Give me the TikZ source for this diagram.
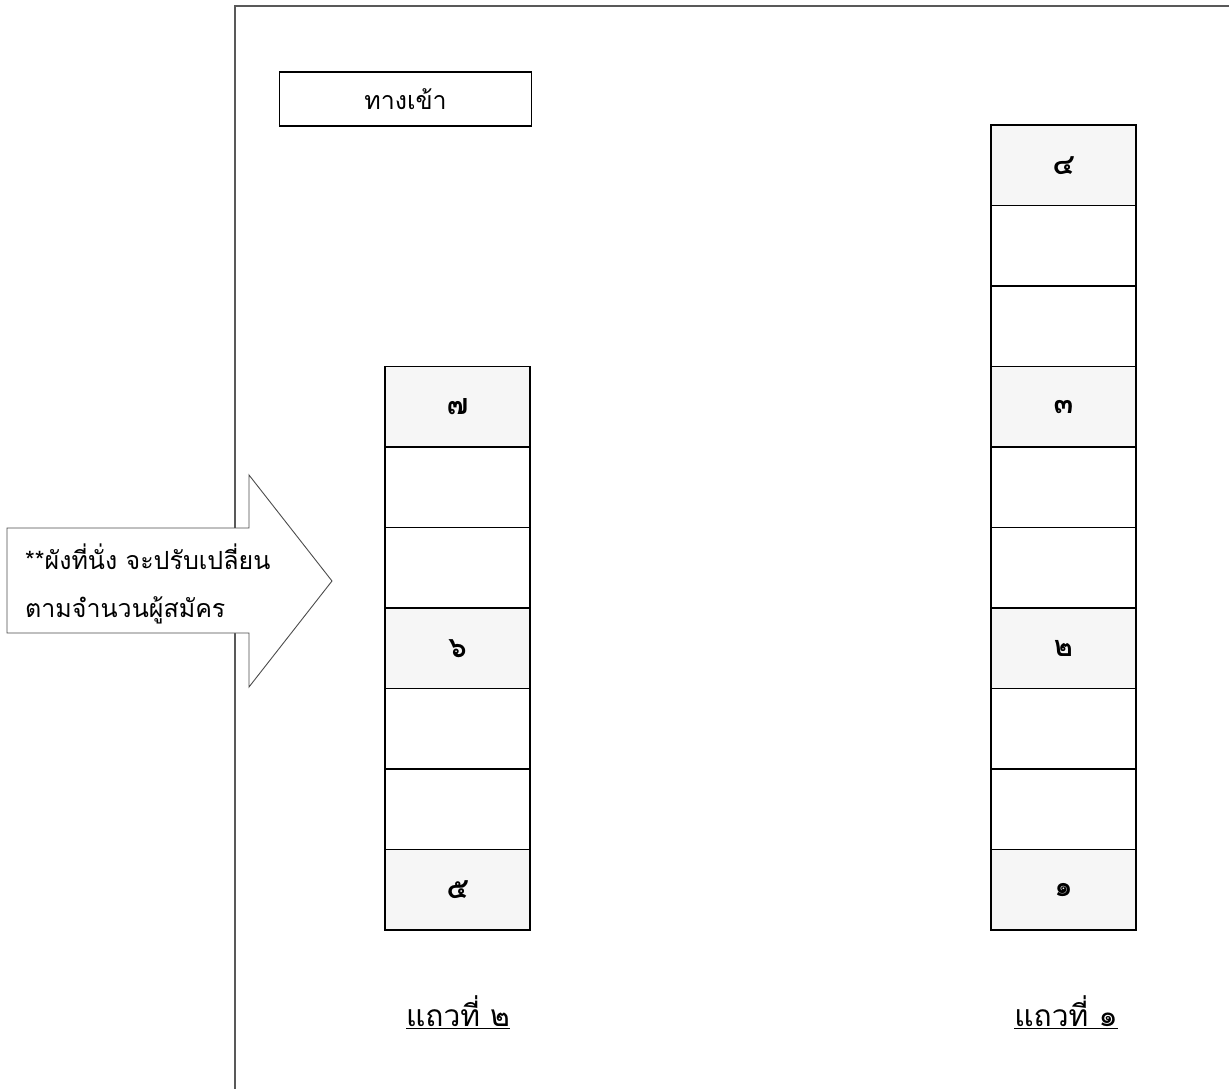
\documentclass[tikz,border=0pt]{standalone}
\usepackage{fontspec}
\newfontfamily\thaifont[Script=Thai]{Loma}
\usetikzlibrary{positioning}

\tikzset{
  seat/.style={draw, line width=1.3pt, minimum width=145pt, minimum height=80.5pt,
    inner sep=0pt, font=\thaifont\bfseries\fontsize{29}{29}\selectfont},
  seatno/.style={seat, fill=gray!7},
  rowlabel/.style={font=\thaifont\fontsize{30}{30}\selectfont},
}

\begin{document}
\begin{tikzpicture}[x=1pt,y=-1pt]
\useasboundingbox (0,0) rectangle (1229,1089);
% hall outline
\draw[line width=1.3pt, gray!70!black] (235,1089) -- (235,6) -- (1229,6);

% entrance
\node[draw, line width=1.3pt, minimum width=252pt, minimum height=54pt, inner sep=0pt,
  font=\thaifont\fontsize{25}{25}\selectfont] (entry) at (405.5,99) {ทางเข้า};

% row 1
\node[seatno] (r1a) at (1063.5,165.25) {\raisebox{-4pt}{๔}};
\node[seat]   (r1b) at (1063.5,245.75) {};
\node[seat]   (r1c) at (1063.5,326.25) {};
\node[seatno] (r1d) at (1063.5,406.75) {\raisebox{-4pt}{๓}};
\node[seat]   (r1e) at (1063.5,487.25) {};
\node[seat]   (r1f) at (1063.5,567.75) {};
\node[seatno] (r1g) at (1063.5,648.25) {\raisebox{-4pt}{๒}};
\node[seat]   (r1h) at (1063.5,728.75) {};
\node[seat]   (r1i) at (1063.5,809.25) {};
\node[seatno] (r1j) at (1063.5,889.75) {\raisebox{-4pt}{๑}};

% row 2
\node[seatno] (r2a) at (457.5,406.75) {\raisebox{-4pt}{๗}};
\node[seat]   (r2b) at (457.5,487.25) {};
\node[seat]   (r2c) at (457.5,567.75) {};
\node[seatno] (r2d) at (457.5,648.25) {\raisebox{-4pt}{๖}};
\node[seat]   (r2e) at (457.5,728.75) {};
\node[seat]   (r2f) at (457.5,809.25) {};
\node[seatno] (r2g) at (457.5,889.75) {\raisebox{-4pt}{๕}};

% row labels
\node[rowlabel] (lab1) at (1066,1012) {\underline{แถวที่ ๑}};
\node[rowlabel] (lab2) at (458,1012) {\underline{แถวที่ ๒}};

% note arrow
\draw[line width=0.9pt, gray!60!black, fill=white]
  (7,528) -- (249,528) -- (249,475) -- (332,581) -- (249,687) -- (249,633) -- (7,633) -- cycle;
\node[anchor=west, align=left, inner sep=0pt, font=\thaifont\fontsize{25}{48}\selectfont]
  (note) at (25,584) {**ผังที่นั่ง จะปรับเปลี่ยน\\ตามจำนวนผู้สมัคร};
\end{tikzpicture}
\end{document}
